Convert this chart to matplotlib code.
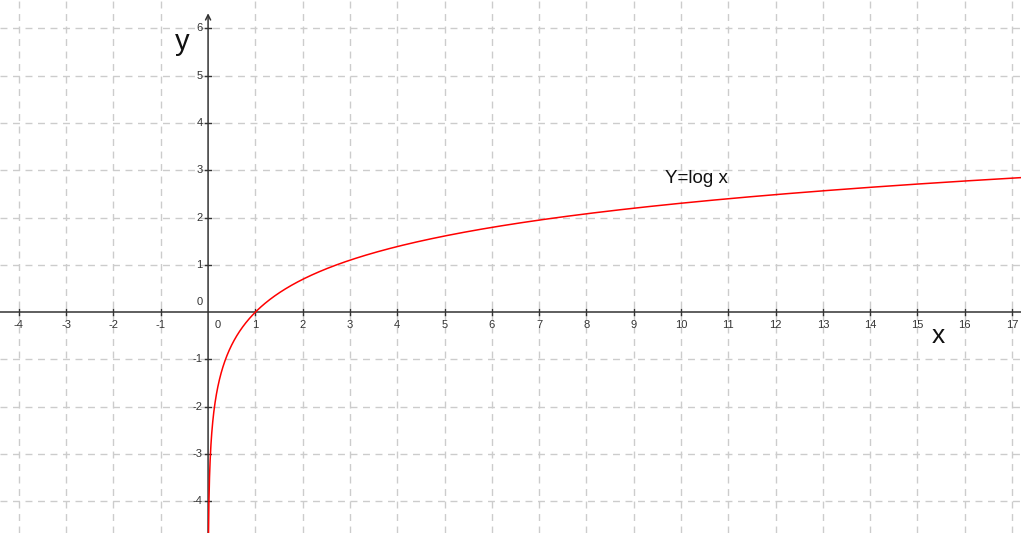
import numpy as np
import matplotlib
matplotlib.use("Agg")
import matplotlib.pyplot as plt

plt.rcParams['font.family'] = ['Liberation Sans', 'DejaVu Sans']

x_ticks = [-4, -3, -2, -1, 1, 2, 3, 4, 5, 6, 7, 8, 9, 10, 11, 12, 13, 14, 15, 16, 17]
y_ticks = [-4, -3, -2, -1, 1, 2, 3, 4, 5, 6]
x_min, x_max = -4.40, 17.19
y_min, y_max = -4.67, 6.60
curve_label = "Y=log x"

fig = plt.figure(figsize=(10.21, 5.33), dpi=100)
ax = fig.add_axes([0, 0, 1, 1])
ax.set_xlim(x_min, x_max)
ax.set_ylim(y_min, y_max)
for s in ax.spines.values():
    s.set_visible(False)
ax.set_xticks([])
ax.set_yticks([])

grid_kw = dict(color="#cccccc", lw=1.0, dashes=(5, 4), zorder=0)
for xv in x_ticks:
    ax.axvline(xv, **grid_kw)
for yv in y_ticks:
    ax.axhline(yv, **grid_kw)

axis_col = "#333333"
ax.plot([x_min, x_max], [0, 0], color=axis_col, lw=1.1, zorder=2)
ax.annotate("", xy=(0, 6.32), xytext=(0, y_min),
            arrowprops=dict(arrowstyle="->", color=axis_col, lw=1.1,
                            shrinkA=0, shrinkB=0, mutation_scale=9), zorder=2)

tl = 0.07
lab_kw = dict(fontsize=8, color="#333333")
for xv in x_ticks:
    ax.plot([xv, xv], [-tl, tl], color=axis_col, lw=1.0, zorder=2)
    ax.text(xv, -0.17, str(xv), ha="center", va="top", **lab_kw)
for yv in y_ticks:
    ax.plot([-tl, tl], [yv, yv], color=axis_col, lw=1.0, zorder=2)
    ax.text(-0.12, yv, str(yv), ha="right", va="center", **lab_kw)
ax.text(-0.12, 0.1, "0", ha="right", va="bottom", **lab_kw)
ax.text(0.2, -0.17, "0", ha="center", va="top", **lab_kw)

xs = np.linspace(np.exp(y_min - 0.05), x_max, 4000)
ax.plot(xs, np.log(xs), color="#ff0000", lw=1.1, zorder=3)

ax.text(9.66, 2.83, curve_label, fontsize=13.5, ha="left", va="center", color="#111111")
ax.text(-0.55, 5.72, "y", fontsize=21, ha="center", va="center", color="#111111")
ax.text(15.45, -0.5, "x", fontsize=19, ha="center", va="center", color="#111111")

fig.savefig("out.png", dpi=100)
